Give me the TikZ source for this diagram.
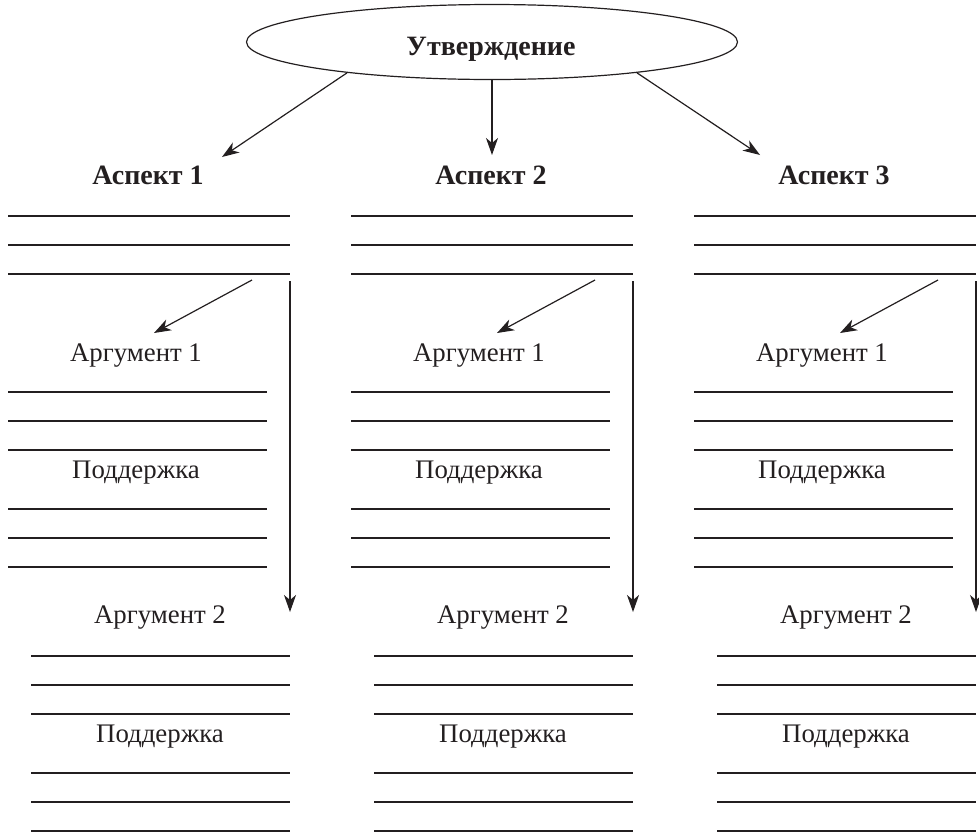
\documentclass[tikz,border=0pt]{standalone}
\usepackage{fontspec}
\setmainfont{Liberation Serif}
\usetikzlibrary{arrows.meta,shapes.geometric}
\definecolor{ink}{RGB}{35,31,32}
\begin{document}
\begin{tikzpicture}[x=0.5pt,y=-0.5pt,
  rule/.style={draw=ink, line width=0.6pt},
  arr/.style={draw=ink, line width=0.6pt, -{Stealth[length=8.5pt,width=6pt,inset=2.5pt]}},
  lbl/.style={text=ink, font=\fontsize{13.4}{15}\selectfont, anchor=base, inner sep=0pt},
  hd/.style={text=ink, font=\bfseries\fontsize{14}{16}\selectfont, anchor=base, inner sep=0pt}]
\useasboundingbox (0,0) rectangle (979,836);
% claim
\node[draw=ink, line width=0.6pt, ellipse, minimum width=245.5pt, minimum height=37.5pt, inner sep=0pt] (claim) at (492,42) {};
\node[hd] (claimtxt) at (491,55) {Утверждение};
\coordinate (t1) at (222,157);
\coordinate (t2) at (492,155);
\coordinate (t3) at (760,155);
\draw[arr] (claim.192) -- (t1);
\draw[arr] (claim.south) -- (t2);
\draw[arr] (claim.348.5) -- (t3);
\foreach \c in {1,2,3}{
  \pgfmathsetmacro\dx{(\c-1)*343}
  \node[hd] (asp\c) at ({148+\dx},184) {Аспект \c};
  \foreach \y in {216,245,274} \draw[rule] ({8+\dx},\y) -- ({290+\dx},\y);
  \coordinate (vs\c) at ({290+\dx},281);
  \coordinate (ve\c) at ({290+\dx},612);
  \draw[arr] (vs\c) -- (ve\c);
  \coordinate (ds\c) at ({252+\dx},280);
  \coordinate (de\c) at ({154+\dx},333);
  \draw[arr] (ds\c) -- (de\c);
  \node[lbl] (arga\c) at ({136+\dx},361) {Аргумент 1};
  \foreach \y in {392,421,450,509,538,567} \draw[rule] ({8+\dx},\y) -- ({267+\dx},\y);
  \node[lbl] (supa\c) at ({136+\dx},478) {Поддержка};
  \node[lbl] (argb\c) at ({160+\dx},623) {Аргумент 2};
  \foreach \y in {656,685,714,773,802,831} \draw[rule] ({31+\dx},\y) -- ({290+\dx},\y);
  \node[lbl] (supb\c) at ({160+\dx},742) {Поддержка};
}
\end{tikzpicture}
\end{document}
